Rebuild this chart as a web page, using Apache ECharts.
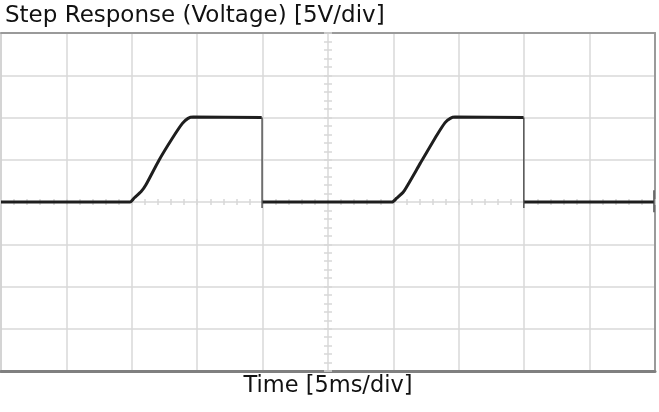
<!DOCTYPE html>
<html>
<head>
<meta charset="utf-8">
<script src="https://cdn.jsdelivr.net/npm/echarts@6/dist/echarts.min.js"></script>
<style>html,body{margin:0;padding:0;background:#fff;}#c{width:659px;height:412px;}</style>
</head>
<body>
<div id="c"></div>
<script>
// Time in ms (5 ms/div), voltage in V (5 V/div)
const traceTime = [0, 9.87, 10.2, 10.7, 11.07, 12.09, 13.1, 13.87, 14.3, 14.7, 19.93, null, 20.0, 29.9, 30.25, 30.78, 32.05, 33.33, 33.95, 34.35, 34.7, 39.95, null, 40.0, 49.9];
const traceVolt = [0, 0, 0.5, 1.2, 2.0, 4.97, 7.54, 9.3, 9.9, 10.05, 10.0, null, 0, 0, 0.45, 1.22, 4.57, 7.93, 9.4, 9.9, 10.05, 10.0, null, 0, 0];
const edgeTime = [19.96, 19.96, null, 39.97, 39.97, null, 49.92, 49.92];
const edgeVolt = [10.0, -0.7, null, 10.0, -0.7, null, 1.4, -1.2];
const xMin = 0, xMax = 50, xStep = 5;
const yMin = -20, yMax = 20, yStep = 5;
const titleText = 'Step Response (Voltage) [5V/div]';
const xLabel = 'Time [5ms/div]';

function pairs(xs, ys) { return xs.map((x, i) => (x === null ? [null, null] : [x, ys[i]])); }

const gridColor = '#d8d8d8';
const font = 'DejaVu Sans';
const hidden = { show: false };
const baseX = { type: 'value', min: xMin, max: xMax, interval: xStep, axisLabel: hidden, splitLine: hidden, axisTick: hidden, axisLine: hidden };
const baseY = { type: 'value', min: yMin, max: yMax, interval: yStep, axisLabel: hidden, splitLine: hidden, axisTick: hidden, axisLine: hidden };
const chart = echarts.init(document.getElementById('c'), null, { renderer: 'canvas' });
chart.setOption({
  animation: false,
  backgroundColor: '#ffffff',
  title: { text: titleText, left: 5, top: 5, padding: 0, textStyle: { fontFamily: font, fontSize: 23, fontWeight: 'normal', color: '#111' } },
  grid: { left: 1, right: 4, top: 33, bottom: 41, containLabel: false },
  xAxis: [
    Object.assign({}, baseX, {
      position: 'bottom',
      axisLine: { show: true, onZero: false, lineStyle: { color: '#808080', width: 3 } },
      splitLine: { show: true, lineStyle: { color: gridColor, width: 1.5 } },
      name: xLabel, nameLocation: 'middle', nameGap: 4,
      nameTextStyle: { fontFamily: font, fontSize: 22.5, color: '#111', verticalAlign: 'top' }
    }),
    Object.assign({}, baseX, { position: 'top', axisLine: { show: true, onZero: false, lineStyle: { color: '#9a9a9a', width: 2 } } }),
    Object.assign({}, baseX, {
      position: 'bottom', axisLine: { show: false, onZero: true },
      axisTick: { show: true, inside: true, length: 3, lineStyle: { color: gridColor, width: 1.5 } },
      minorTick: { show: true, splitNumber: 5, length: 3, lineStyle: { color: gridColor, width: 1.5 } }
    }),
    Object.assign({}, baseX, {
      position: 'bottom', axisLine: { show: false, onZero: true },
      axisTick: { show: true, inside: false, length: 3, lineStyle: { color: gridColor, width: 1.5 } },
      minorTick: { show: true, splitNumber: 5, length: 3, lineStyle: { color: gridColor, width: 1.5 } }
    })
  ],
  yAxis: [
    Object.assign({}, baseY, {
      position: 'left',
      axisLine: { show: true, onZero: false, lineStyle: { color: '#cfcfcf', width: 1.5 } },
      splitLine: { show: true, lineStyle: { color: gridColor, width: 1.5 } }
    }),
    Object.assign({}, baseY, { position: 'right', axisLine: { show: true, onZero: false, lineStyle: { color: '#9a9a9a', width: 2 } } }),
    Object.assign({}, baseY, {
      position: 'left', offset: -327, axisLine: { show: false, onZero: false },
      axisTick: { show: true, inside: true, length: 4, lineStyle: { color: gridColor, width: 1.5 } },
      minorTick: { show: true, splitNumber: 5, length: 4, lineStyle: { color: gridColor, width: 1.5 } }
    }),
    Object.assign({}, baseY, {
      position: 'left', offset: -327, axisLine: { show: false, onZero: false },
      axisTick: { show: true, inside: false, length: 4, lineStyle: { color: gridColor, width: 1.5 } },
      minorTick: { show: true, splitNumber: 5, length: 4, lineStyle: { color: gridColor, width: 1.5 } }
    })
  ],
  series: [
    { type: 'line', xAxisIndex: 0, yAxisIndex: 0, data: pairs(edgeTime, edgeVolt), showSymbol: false, connectNulls: false,
      lineStyle: { color: '#555', width: 1.5 }, z: 3 },
    { type: 'line', xAxisIndex: 0, yAxisIndex: 0, data: pairs(traceTime, traceVolt), showSymbol: false, connectNulls: false, smooth: 0.2,
      lineStyle: { color: '#1e1e1e', width: 3 }, z: 4 }
  ]
});
</script>
</body>
</html>
